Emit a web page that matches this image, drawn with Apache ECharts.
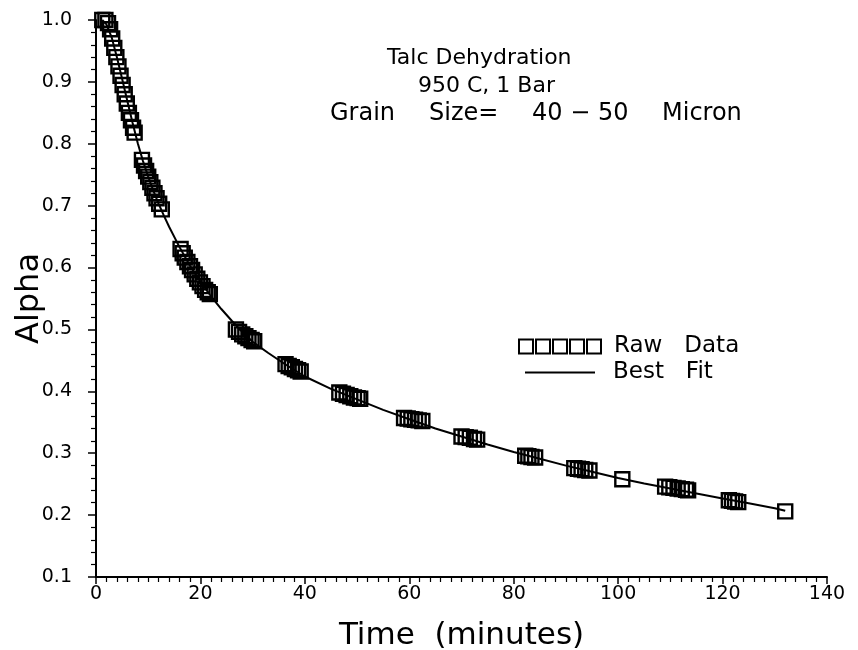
<!DOCTYPE html>
<html>
<head>
<meta charset="utf-8">
<script src="https://cdn.jsdelivr.net/npm/echarts@6/dist/echarts.min.js"></script>
<style>html,body{margin:0;padding:0;background:#fff}#c{width:858px;height:650px}</style>
</head>
<body>
<div id="c"></div>
<script>
// ---- data ----
var rawTime = [1.2,1.8,2.3,2.7,3.1,3.5,3.9,4.3,4.7,5.1,5.5,5.9,6.3,6.7,7.1,7.4,
  8.8,9.2,9.6,10.0,10.4,10.8,11.2,11.6,12.1,12.6,
  16.2,16.6,17.0,17.5,18.0,18.4,18.9,19.4,19.9,20.4,20.9,21.4,21.8,
  26.8,27.4,28.0,28.6,29.2,29.8,30.3,
  36.3,36.9,37.5,38.1,38.7,39.2,
  46.6,47.3,48.0,48.7,49.4,50.1,50.6,
  59.0,59.7,60.4,61.1,61.8,62.5,
  70.0,70.8,71.6,72.4,73.0,
  82.2,82.8,83.4,84.1,
  91.6,92.3,93.0,93.7,94.5,
  100.8,
  109.0,109.8,110.6,111.4,112.2,113.0,113.4,
  121.2,121.8,122.4,123.0,
  132.0];
var rawAlpha = [1.000,1.000,0.995,0.985,0.970,0.955,0.940,0.925,0.910,0.895,0.880,0.865,0.850,0.838,0.826,0.818,
  0.774,0.765,0.756,0.747,0.738,0.729,0.720,0.712,0.703,0.694,
  0.630,0.623,0.616,0.609,0.602,0.596,0.589,0.582,0.576,0.570,0.564,0.560,0.557,
  0.500,0.496,0.492,0.489,0.486,0.483,0.481,
  0.444,0.441,0.439,0.436,0.434,0.432,
  0.398,0.396,0.394,0.392,0.390,0.389,0.388,
  0.357,0.356,0.355,0.354,0.353,0.352,
  0.327,0.326,0.325,0.323,0.322,
  0.296,0.295,0.294,0.293,
  0.276,0.275,0.274,0.273,0.272,
  0.258,
  0.246,0.245,0.244,0.243,0.242,0.241,0.240,
  0.224,0.223,0.222,0.221,
  0.206];
var fitTime = [1.2,2,3,4,5,6,7,8,9,10,11,12,13,14,16,18,20,22,24,26,28,30,33,36,40,45,50,55,60,65,70,75,80,85,90,95,100,105,110,115,120,125,130,132];
var fitAlpha = [1.000,0.993,0.972,0.940,0.905,0.869,0.834,0.801,0.772,0.747,0.724,0.703,0.684,0.666,0.633,0.603,0.577,0.554,0.533,0.514,0.496,0.480,0.462,0.445,0.424,0.404,0.387,0.370,0.355,0.340,0.327,0.314,0.302,0.291,0.280,0.270,0.260,0.251,0.243,0.235,0.227,0.219,0.211,0.207];
var titleLine1 = 'Talc Dehydration';
var titleLine2 = '950 C, 1 Bar';
var titleLine3Words = ['Grain', 'Size=', '40 \u2212 50', 'Micron'];
var seriesNames = ['Raw   Data', 'Best   Fit'];
var xLabel = 'Time  (minutes)';
var yLabel = 'Alpha';

var rawPts = rawTime.map(function(t,i){return [t, rawAlpha[i]];});
var fitPts = fitTime.map(function(t,i){return [t, fitAlpha[i]];});

var FONT = 'DejaVu Sans';
var chart = echarts.init(document.getElementById('c'), null, {renderer:'canvas'});
var squaresIcon = 'path://M0,0h14v14h-14z M17,0h14v14h-14z M34,0h14v14h-14z M51,0h14v14h-14z M68,0h14v14h-14z';
var lineIcon = 'path://M0,0h70v2h-70z';
var tStyle = {fontFamily:FONT, fontSize:22, fontWeight:'normal', color:'#000'};
var wStyle = {fontFamily:FONT, fontSize:24, fontWeight:'normal', color:'#000'};
var wordLeft = [330, 429, 532, 662];

var titles = [
  {text: titleLine1, left: 387, top: 47, padding: 0, textStyle: tStyle},
  {text: titleLine2, left: 418, top: 75, padding: 0, textStyle: tStyle}
];
titleLine3Words.forEach(function(w, i){
  titles.push({text: w, left: wordLeft[i], top: 102, padding: 0, textStyle: wStyle});
});

chart.setOption({
  backgroundColor: '#fff',
  animation: false,
  title: titles,
  legend: [
    {data:[{name: seriesNames[0], icon: squaresIcon, itemStyle:{color:'transparent', borderColor:'#000', borderWidth:2, opacity:1}}],
     left: 518, top: 335, itemWidth: 82, itemHeight: 14, itemGap: 0, padding: 0,
     textStyle:{fontFamily:FONT, fontSize:23, color:'#000', padding:[0,0,0,8]}},
    {data:[{name: seriesNames[1], icon: lineIcon, itemStyle:{color:'#000', borderWidth:0}}],
     left: 525, top: 361, itemWidth: 70, itemHeight: 2, padding: 0,
     textStyle:{fontFamily:FONT, fontSize:23, color:'#000', padding:[0,0,0,13]}}
  ],
  grid: {left: 96, right: 31, top: 20, bottom: 73, containLabel: false, outerBoundsMode: 'none'},
  xAxis: {
    type: 'value', min: 0, max: 140, interval: 20,
    name: xLabel, nameLocation: 'middle', nameGap: 43,
    nameTextStyle: {fontFamily:FONT, fontSize:31, color:'#000'},
    axisLine: {show:true, onZero:false, lineStyle:{color:'#000', width:2}},
    axisTick: {show:true, inside:false, length:7, lineStyle:{color:'#000', width:1.5}},
    minorTick: {show:true, splitNumber:10, length:5, lineStyle:{color:'#000', width:1.2}},
    axisLabel: {fontFamily:FONT, fontSize:19, color:'#000', margin:8},
    splitLine: {show:false}
  },
  yAxis: {
    type: 'value', min: 0.1, max: 1.0, interval: 0.1,
    name: yLabel, nameLocation: 'middle', nameGap: 50, nameRotate: 90, nameMoveOverlap: false,
    nameTextStyle: {fontFamily:FONT, fontSize:32, color:'#000'},
    axisLine: {show:true, onZero:false, lineStyle:{color:'#000', width:2}},
    axisTick: {show:true, inside:false, length:8, lineStyle:{color:'#000', width:1.5}},
    minorTick: {show:true, splitNumber:5, length:5, lineStyle:{color:'#000', width:1.2}},
    axisLabel: {fontFamily:FONT, fontSize:19, color:'#000', margin:24,
      formatter: function(v){return v.toFixed(1);}},
    splitLine: {show:false}
  },
  series: [
    {name: seriesNames[0], type:'scatter', data: rawPts, symbol:'rect', symbolSize: 14,
     itemStyle:{color:'transparent', borderColor:'#000', borderWidth:2.4, opacity:1}, z:3},
    {name: seriesNames[1], type:'line', data: fitPts, showSymbol:false, symbol:'none',
     smooth: false,
     lineStyle:{color:'#000', width:2}, itemStyle:{color:'#000'}, z:2}
  ]
});
</script>
</body>
</html>
